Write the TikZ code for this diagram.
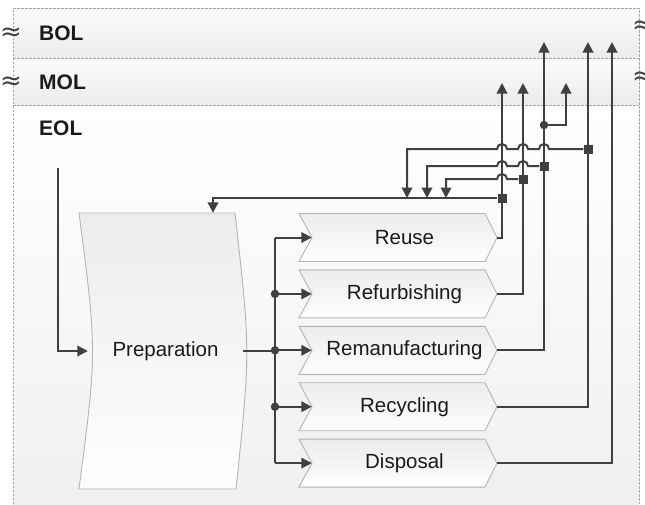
\documentclass[tikz,border=0pt]{standalone}
\usepackage{fontspec}
\setmainfont{Liberation Sans}
\newfontfamily\symfont{DejaVu Sans}
\usetikzlibrary{arrows.meta}
\definecolor{wire}{HTML}{404040}
\definecolor{edge}{HTML}{B4B4B4}
\definecolor{frame}{HTML}{A6A6A6}
\definecolor{txt}{HTML}{1A1A1A}
\definecolor{shadetop}{HTML}{ECECEC}
\definecolor{shadebot}{HTML}{FEFEFE}

\begin{document}
\begin{tikzpicture}[x=1pt,y=1pt,
  wire/.style={draw=wire, line width=2pt},
  arr/.style={wire, -{Triangle[length=10.5pt,width=10.5pt]}},
  stagebox/.style={draw=edge, line width=0.9pt, top color=shadetop, bottom color=shadebot},
  stagetxt/.style={minimum width=185pt, minimum height=48pt, inner sep=0pt,
    font=\fontsize{20.5}{24}\selectfont, text=txt},
  sqj/.style={rectangle, fill=wire, minimum size=9pt, inner sep=0pt},
  dotj/.style={circle, fill=wire, minimum size=8.5pt, inner sep=0pt},
  phase/.style={anchor=west, inner sep=0pt, font=\fontsize{21}{24}\selectfont\bfseries, text=txt},
  bandline/.style={draw=frame, line width=0.7pt, dash pattern=on 2.5pt off 1.5pt},
  wave/.style={text=wire, inner sep=0pt, font=\symfont\fontsize{26}{26}\selectfont}
]
\useasboundingbox (0,0) rectangle (645,-504);

% lifecycle bands
\shade[top color=white!97!gray, bottom color=gray!15] (13,-8) rectangle (639,-58);
\shade[top color=white!97!gray, bottom color=gray!15] (13,-58) rectangle (639,-105);
\shade[top color=white, bottom color=gray!12] (13,-105) rectangle (639,-504);
\draw[bandline] (13,-504) -- (13,-8) -- (639,-8) -- (639,-504);
\draw[bandline] (13,-58) -- (639,-58);
\draw[bandline] (13,-105) -- (639,-105);

\node[wave] (w1) at (11,-34) {≈};
\node[wave] (w2) at (11,-83) {≈};
\node[wave] (w3) at (643,-27) {≈};
\node[wave] (w4) at (643,-78) {≈};

\node[phase] (bol) at (39,-33) {BOL};
\node[phase] (mol) at (39,-82) {MOL};
\node[phase] (eol) at (39,-128) {EOL};

% preparation block
\path[stagebox] (79,-213) -- (235,-213) .. controls (250.5,-351) .. (236,-489)
  -- (79,-489) .. controls (97,-351) .. (79,-213) -- cycle;
\node[inner sep=0pt, minimum width=155pt, minimum height=276pt,
  font=\fontsize{20.5}{24}\selectfont, text=txt] (prep) at (165.5,-351) {Preparation};

% recovery options
\foreach \nm/\lbl/\y in {reuse/Reuse/237.5, refurb/Refurbishing/293.9,
    reman/Remanufacturing/350.3, recyc/Recycling/406.7, disp/Disposal/463.1} {
  \path[stagebox] (299,{-\y+24}) -- (485,{-\y+24}) -- (497,-\y) -- (485,{-\y-24})
    -- (299,{-\y-24}) -- (312,-\y) -- cycle;
  \node[stagetxt] (\nm) at (404.5,-\y) {\lbl};
}

% input and distribution bus
\coordinate (src) at (58,-168);
\draw[arr] (src) |- (prep.west);
\coordinate (busx) at (275,0);
\draw[wire] (prep.east) -- (busx |- prep.east);
\draw[wire] (busx |- reuse.west) -- (busx |- disp.west);
\foreach \nm in {reuse,refurb,reman,recyc,disp}
  \draw[arr] (busx |- \nm.west) -- (\nm.west);
\node[dotj] (d1) at (busx |- refurb.west) {};
\node[dotj] (d2) at (busx |- reman.west) {};
\node[dotj] (d3) at (busx |- recyc.west) {};

% outputs to MOL and BOL
\coordinate (upa) at (502,-83);
\coordinate (upb) at (523,-83);
\coordinate (upc) at (544,-42);
\coordinate (upd) at (588,-42);
\coordinate (upe) at (612,-42);
\coordinate (upf) at (566,-83);
\draw[arr] (reuse.east) -| (upa);
\draw[arr] (refurb.east) -| (upb);
\draw[arr] (reman.east) -| (upc);
\draw[arr] (recyc.east) -| (upd);
\draw[arr] (disp.east) -| (upe);
\node[dotj] (c1) at (544,-125) {};
\draw[arr] (c1) -| (upf);

% feedback loops into preparation
\node[sqj] (j1) at (502,-198) {};
\node[sqj] (j2) at (523,-179) {};
\node[sqj] (j3) at (544,-166) {};
\node[sqj] (j4) at (588,-149) {};
\coordinate (fb) at (213,-198);
\coordinate (t2) at (446,-198);
\coordinate (t3) at (427,-198);
\coordinate (t4) at (407,-198);
\draw[arr] (j1) -- (fb) -- (fb |- prep.north);
\draw[arr] (j2) -- (507,-179) arc[start angle=0,end angle=180,radius=5]
  -- (446,-179) -- (t2);
\draw[arr] (j3) -- (528,-166) arc[start angle=0,end angle=180,radius=5]
  -- (507,-166) arc[start angle=0,end angle=180,radius=5] -- (427,-166) -- (t3);
\draw[arr] (j4) -- (549,-149) arc[start angle=0,end angle=180,radius=5]
  -- (528,-149) arc[start angle=0,end angle=180,radius=5]
  -- (507,-149) arc[start angle=0,end angle=180,radius=5] -- (407,-149) -- (t4);
\end{tikzpicture}
\end{document}
